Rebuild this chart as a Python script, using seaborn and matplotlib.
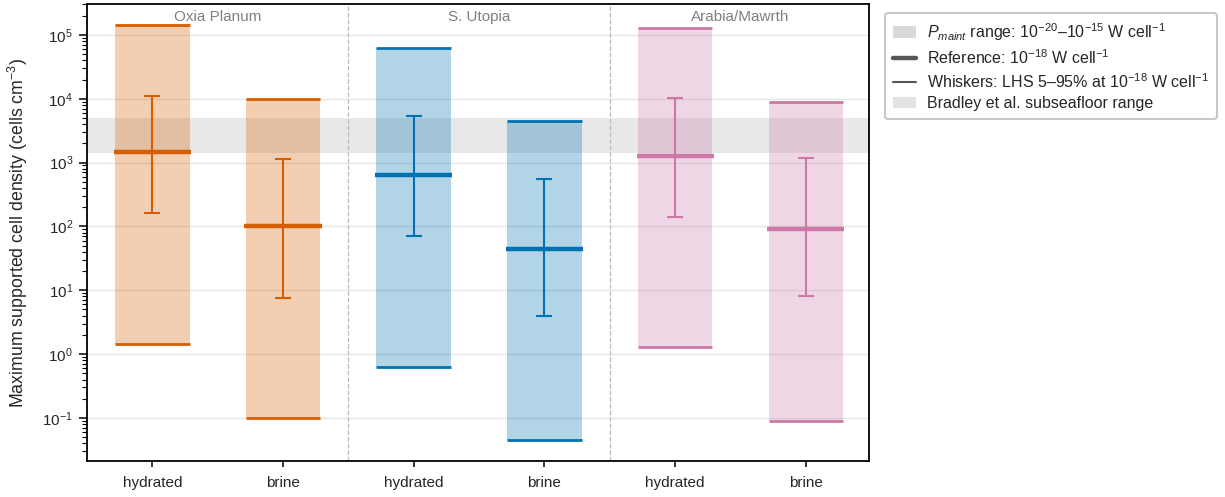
import numpy as np
import pandas as pd
import matplotlib
matplotlib.use("Agg")
import matplotlib.pyplot as plt
from matplotlib.patches import Patch
from matplotlib.lines import Line2D
from matplotlib.ticker import LogLocator, NullFormatter
import seaborn as sns

regions = ["Oxia Planum", "S. Utopia", "Arabia/Mawrth"]
phases = ["hydrated", "brine"]
region_colors = ["#D55E00", "#0072B2", "#CC79A7"]

# reference density at 1e-18 W/cell (cells cm^-3)
ref_vals = [1450, 100, 630, 45, 1280, 90]
# Pmaint range 1e-20 (top) .. 1e-15 (bottom)
range_top = [1.45e5, 1.0e4, 6.3e4, 4.5e3, 1.28e5, 9.0e3]
range_bot = [1.45, 0.10, 0.63, 0.045, 1.28, 0.09]
# LHS 5-95% whiskers
whisk_lo = [160, 7.5, 72, 3.9, 140, 8.0]
whisk_hi = [1.1e4, 1.15e3, 5.4e3, 550, 1.02e4, 1.2e3]
bradley_range = [1.4e3, 5.0e3]
y_major_ticks = [1e-1, 1e0, 1e1, 1e2, 1e3, 1e4, 1e5]

df = pd.DataFrame({
    "region": np.repeat(regions, 2),
    "phase": phases * 3,
    "ref": ref_vals, "top": range_top, "bot": range_bot,
    "lo": whisk_lo, "hi": whisk_hi,
})
df["color"] = np.repeat(region_colors, 2)
df["x"] = np.arange(len(df))

sns.set_theme(style="ticks")
plt.rcParams["font.family"] = ["Liberation Sans", "DejaVu Sans"]
plt.rcParams["mathtext.fontset"] = "custom"
plt.rcParams["mathtext.rm"] = "Liberation Sans"
plt.rcParams["mathtext.it"] = "Liberation Sans:italic"

fig = plt.figure(figsize=(12.25, 4.97), dpi=100)
ax = fig.add_axes([0.071, 0.072, 0.638, 0.92])
ax.set_yscale("log")

ax.axhspan(bradley_range[0], bradley_range[1], color="#d9d9d9", alpha=0.6, lw=0, zorder=0.5)

bw = 0.57
for _, r in df.iterrows():
    ax.bar(r["x"], r["top"] - r["bot"], bottom=r["bot"], width=bw,
           color=r["color"], alpha=0.3, lw=0, zorder=1)
    ax.hlines([r["top"], r["bot"]], r["x"] - bw / 2, r["x"] + bw / 2,
              color=r["color"], lw=2, zorder=2)
    ax.hlines(r["ref"], r["x"] - bw / 2 - 0.01, r["x"] + bw / 2 + 0.01,
              color=r["color"], lw=3.2, zorder=3)
    ax.errorbar(r["x"], r["ref"],
                yerr=[[r["ref"] - r["lo"]], [r["hi"] - r["ref"]]],
                fmt="none", ecolor=r["color"], elinewidth=1.5, capsize=6,
                capthick=1.5, zorder=3)

for xv in [1.5, 3.5]:
    ax.axvline(xv, color="#bbbbbb", ls="--", lw=0.9, zorder=0.6)

for i, name in enumerate(regions):
    ax.text(2 * i + 0.5, 1.9e5, name, ha="center", va="center",
            fontsize=11, color="#808080", zorder=4)

ax.set_xlim(-0.5, 5.48)
ax.set_ylim(0.021, 3.05e5)
ax.set_xticks(df["x"])
ax.set_xticklabels(df["phase"], fontsize=11)
ax.set_yticks(y_major_ticks)
ax.yaxis.set_minor_locator(LogLocator(base=10, subs=np.arange(2, 10), numticks=100))
ax.yaxis.set_minor_formatter(NullFormatter())
ax.set_ylim(0.021, 3.05e5)
ax.set_ylabel(r"Maximum supported cell density (cells cm$^{-3}$)", fontsize=12.8, labelpad=9)
ax.yaxis.grid(True, which="major", color="#e6e6e6", lw=1, zorder=0)
ax.tick_params(axis="x", which="major", direction="out", length=4.5, width=1.1,
               pad=6, labelsize=11, color="black")
ax.tick_params(axis="y", which="major", direction="out", length=6, width=1.1,
               pad=4, labelsize=11, color="black")
ax.tick_params(axis="y", which="minor", direction="out", length=3.5, width=0.8, color="black")
for s in ax.spines.values():
    s.set_visible(True)
    s.set_color("black")
    s.set_linewidth(1.3)

handles = [
    Patch(facecolor="#d9d9d9", edgecolor="none"),
    Line2D([0], [0], color="#555555", lw=3.2),
    Line2D([0], [0], color="#555555", lw=1.5),
    Patch(facecolor="#e3e3e3", edgecolor="none"),
]
labels = [
    r"$P_{maint}$ range: $10^{-20}$–$10^{-15}$ W cell$^{-1}$",
    r"Reference: $10^{-18}$ W cell$^{-1}$",
    r"Whiskers: LHS 5–95% at $10^{-18}$ W cell$^{-1}$",
    "Bradley et al. subseafloor range",
]
leg = fig.legend(handles, labels, loc="upper left", bbox_to_anchor=(0.7224, 0.974),
                 borderaxespad=0, fontsize=11.5, frameon=True, fancybox=True,
                 borderpad=0.5, handlelength=1.45, handletextpad=0.7,
                 labelspacing=0.34)
leg.get_frame().set_edgecolor("#bbbbbb")
leg.get_frame().set_linewidth(1.5)

fig.savefig("out.png", dpi=100)
